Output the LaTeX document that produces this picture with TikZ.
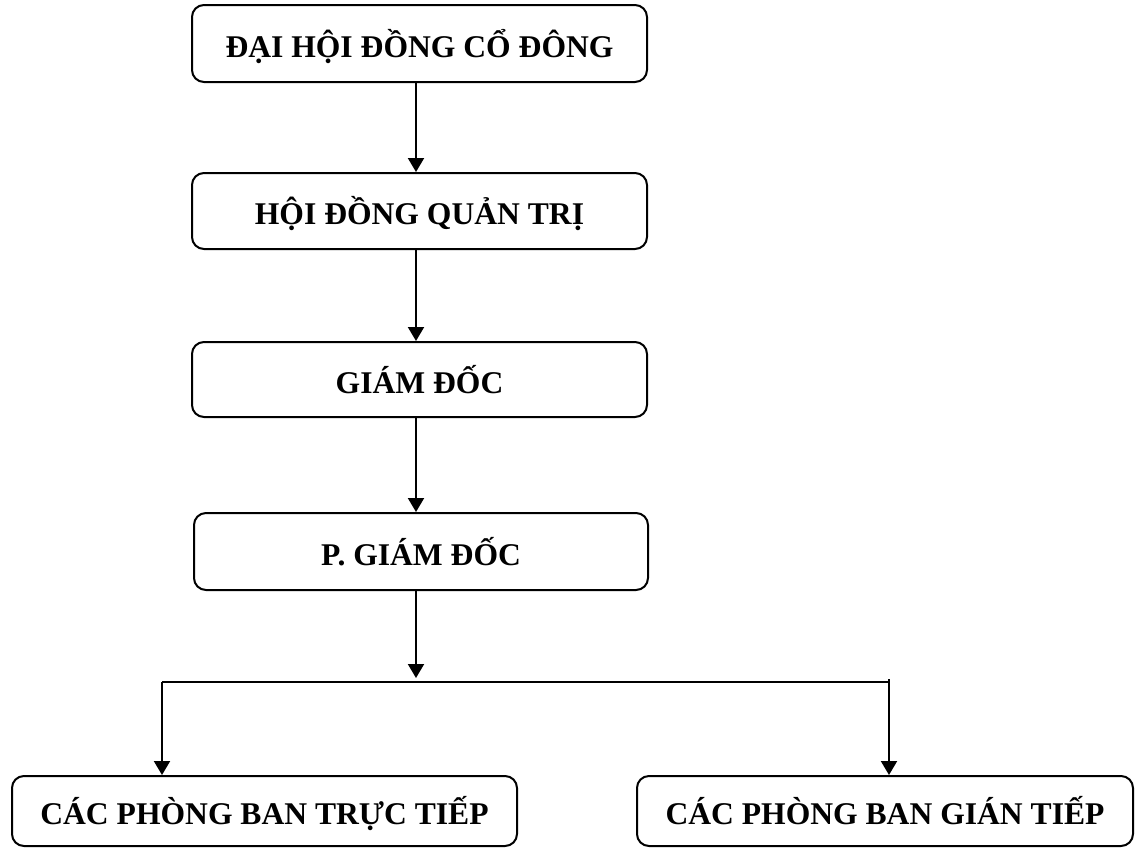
\documentclass[tikz,border=0pt]{standalone}
\usepackage{fontspec}
\setmainfont{Liberation Serif}
\usetikzlibrary{arrows.meta}

\tikzset{
  khoi/.style={draw, line width=1pt, rounded corners=6pt, inner sep=0pt,
    minimum width=227.5pt, minimum height=38pt,
    text height=14pt, text depth=0.5pt,
    font=\fontsize{15.8}{19}\selectfont\bfseries},
  muiten/.style={line width=1pt, -{Triangle[width=8pt,length=7pt]}},
  nhanh/.style={line width=0.7pt},
}

\begin{document}
\begin{tikzpicture}[x=0.5pt,y=-0.5pt]
\useasboundingbox (0,0) rectangle (1136,848);

% cac khoi chinh
\node[khoi, minimum height=38.5pt] (dhdcd) at (419.5,43.5) {ĐẠI HỘI ĐỒNG CỔ ĐÔNG};
\node[khoi] (hdqt) at (419.5,211) {HỘI ĐỒNG QUẢN TRỊ};
\node[khoi, minimum height=37.5pt] (gd) at (419.5,379.5) {GIÁM ĐỐC};
\node[khoi, minimum width=227pt, minimum height=38.5pt] (pgd) at (421,551.5) {P. GIÁM ĐỐC};
\node[khoi, minimum width=252.5pt, minimum height=35pt] (pbtt) at (264.5,811) {CÁC PHÒNG BAN TRỰC TIẾP};
\node[khoi, minimum width=248pt, minimum height=35pt] (pbgt) at (885,811) {CÁC PHÒNG BAN GIÁN TIẾP};

% diem re nhanh
\coordinate (tach) at (416,682);
\coordinate (trai) at (162,682);
\coordinate (phai) at (889,682);

\draw[muiten] (dhdcd.south -| tach) -- (hdqt.north -| tach);
\draw[muiten] (hdqt.south -| tach) -- (gd.north -| tach);
\draw[muiten] (gd.south -| tach) -- (pgd.north -| tach);
\draw[muiten] (pgd.south -| tach) -- ([yshift=2pt]tach);
\draw[nhanh] (trai) -- (phai);
\draw[muiten] (trai) -- (trai |- pbtt.north);
\draw[muiten] ([yshift=1.5pt]phai) -- (phai |- pbgt.north);
\end{tikzpicture}
\end{document}
